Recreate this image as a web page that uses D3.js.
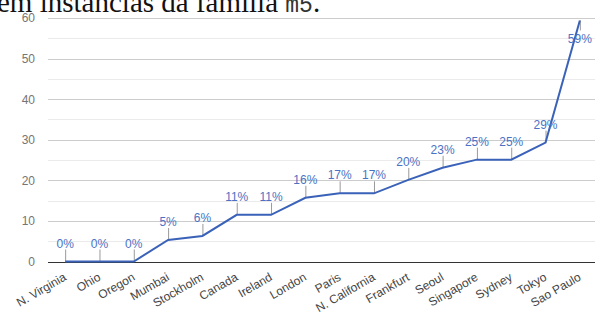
<!DOCTYPE html>
<html>
<head>
<meta charset="utf-8">
<script src="https://cdn.jsdelivr.net/npm/d3@7"></script>
<style>
    html, body { margin: 0; padding: 0; background: #fff; overflow: hidden; }
    svg { display: block; }
</style>
</head>
<body>
<div id="chart"></div>
<script>
const regions = ["N. Virginia", "Ohio", "Oregon", "Mumbai", "Stockholm", "Canada", "Ireland", "London",
    "Paris", "N. California", "Frankfurt", "Seoul", "Singapore", "Sydney", "Tokyo", "Sao Paulo"];
const values = [0, 0, 0, 5.3, 6.3, 11.5, 11.5, 15.7, 16.8, 16.8, 20.1, 23.1, 25.1, 25.1, 29.3, 59.4];
const pointLabels = ["0%", "0%", "0%", "5%", "6%", "11%", "11%", "16%", "17%", "17%", "20%", "23%",
    "25%", "25%", "29%", "59%"];
const yTicks = [0, 10, 20, 30, 40, 50, 60];
const yMinorTicks = [5, 15, 25, 35, 45, 55];

const width = 595;
const height = 313;
const margin = { top: 18, right: -2, bottom: 51.5, left: 48 };

const svg = d3.select("#chart").append("svg")
    .attr("width", width)
    .attr("height", height);

// title from the page above, cut off by the crop
const title = svg.append("text")
    .attr("x", -3)
    .attr("y", 12)
    .attr("font-family", "'Liberation Serif', 'DejaVu Serif', serif")
    .attr("font-size", 29)
    .attr("fill", "#111");
title.append("tspan").text("em instâncias da família ");
title.append("tspan")
    .attr("font-family", "'Liberation Mono', 'DejaVu Sans Mono', monospace")
    .attr("font-size", 23)
    .attr("fill", "#333")
    .text("m5");
title.append("tspan").text(".");

const x = d3.scalePoint()
    .domain(regions)
    .range([margin.left, width - margin.right])
    .padding(0.5);

const y = d3.scaleLinear()
    .domain([0, 60])
    .range([height - margin.bottom, margin.top]);

const grid = svg.append("g");
grid.selectAll("line.minor")
    .data(yMinorTicks)
    .join("line")
    .attr("class", "minor")
    .attr("x1", margin.left)
    .attr("x2", width)
    .attr("y1", (d) => Math.round(y(d)) + 0.5)
    .attr("y2", (d) => Math.round(y(d)) + 0.5)
    .attr("stroke", "#ebebeb");

grid.selectAll("line.major")
    .data(yTicks.filter((d) => d > 0))
    .join("line")
    .attr("class", "major")
    .attr("x1", margin.left)
    .attr("x2", width)
    .attr("y1", (d) => Math.round(y(d)) + 0.5)
    .attr("y2", (d) => Math.round(y(d)) + 0.5)
    .attr("stroke", "#cccccc");

// y labels
const yAxis = d3.axisLeft(y).tickValues(yTicks).tickSize(0).tickPadding(0);
const yG = svg.append("g")
    .attr("transform", `translate(${margin.left - 13}, 0)`)
    .call(yAxis);
yG.select(".domain").remove();
yG.selectAll("text")
    .attr("fill", "#757575")
    .attr("font-family", "Arial, 'Liberation Sans', sans-serif")
    .attr("font-size", 12);

// annotation stems
const stems = svg.append("g");
stems.selectAll("line")
    .data(regions)
    .join("line")
    .attr("x1", (d) => x(d) + 0.5)
    .attr("x2", (d) => x(d) + 0.5)
    .attr("y1", (d, i) => y(values[i]))
    .attr("y2", (d, i) => i === regions.length - 1 ? y(values[i]) + 10 : y(values[i]) - 12)
    .attr("stroke", "#999999")
    .attr("stroke-width", 1);

// baseline
svg.append("line")
    .attr("x1", margin.left)
    .attr("x2", width)
    .attr("y1", Math.round(y(0)) + 0.5)
    .attr("y2", Math.round(y(0)) + 0.5)
    .attr("stroke", "#333333");

const line = d3.line()
    .x((d) => x(d))
    .y((d, i) => y(values[i]));

svg.append("path")
    .datum(regions)
    .attr("fill", "none")
    .attr("stroke", "#3a62b8")
    .attr("stroke-width", 2)
    .attr("d", line);

// point labels
svg.append("g")
    .selectAll("text")
    .data(regions)
    .join("text")
    .attr("x", (d) => x(d))
    .attr("y", (d, i) => i === regions.length - 1 ? y(values[i]) + 23 : y(values[i]) - 14)
    .attr("text-anchor", "middle")
    .attr("fill", "#4a72c4")
    .attr("font-family", "Arial, 'Liberation Sans', sans-serif")
    .attr("font-size", 12)
    .text((d, i) => pointLabels[i]);

// slanted x labels
svg.append("g")
    .selectAll("text")
    .data(regions)
    .join("text")
    .attr("transform", (d) => `translate(${x(d) + 2}, ${height - margin.bottom + 18}) rotate(-30)`)
    .attr("text-anchor", "end")
    .attr("fill", "#444444")
    .attr("font-family", "Arial, 'Liberation Sans', sans-serif")
    .attr("font-size", 12)
    .text((d) => d);
</script>
</body>
</html>
